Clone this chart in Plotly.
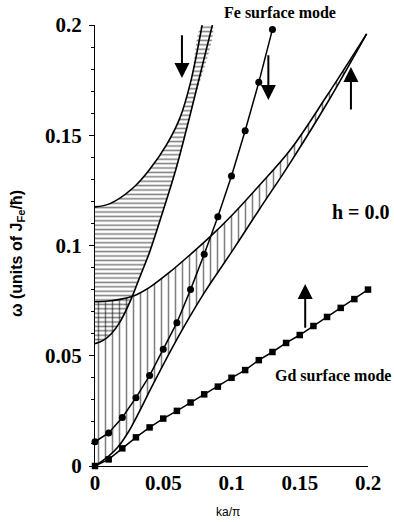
import plotly.graph_objects as go

# ---- data ----
fe_band_upper_k = [0, 0.011, 0.028, 0.040, 0.0527, 0.0623, 0.0700, 0.0785]
fe_band_upper_w = [0.1175, 0.119, 0.1262, 0.1345, 0.146, 0.158, 0.174, 0.2]
fe_band_lower_k = [0, 0.006, 0.012, 0.018, 0.026, 0.033, 0.040, 0.050, 0.059, 0.070, 0.086]
fe_band_lower_w = [0.0555, 0.057, 0.060, 0.065, 0.075, 0.086, 0.097, 0.116, 0.134, 0.160, 0.2]

gd_band_lower_k = [0, 0.01, 0.0168, 0.025, 0.0315, 0.0425, 0.0623, 0.08, 0.1, 0.12, 0.143, 0.17, 0.199]
gd_band_lower_w = [0, 0.0045, 0.0086, 0.016, 0.0235, 0.037, 0.060, 0.0785, 0.097, 0.116, 0.1375, 0.1645, 0.196]
gd_band_upper_k = [0, 0.01, 0.02, 0.03, 0.04, 0.0549, 0.07, 0.0842, 0.1, 0.12, 0.143, 0.17, 0.199]
gd_band_upper_w = [0.0745, 0.0748, 0.0758, 0.0776, 0.081, 0.088, 0.096, 0.1039, 0.1135, 0.127, 0.1433, 0.168, 0.196]

fe_surf_k = [0, 0.01, 0.02, 0.03, 0.04, 0.05, 0.06, 0.07, 0.08, 0.09, 0.10, 0.11, 0.12, 0.13]
fe_surf_w = [0.011, 0.015, 0.022, 0.031, 0.041, 0.053, 0.065, 0.080, 0.096, 0.113, 0.1315, 0.152, 0.174, 0.198]

gd_surf_k = [0, 0.01, 0.02, 0.03, 0.04, 0.05, 0.06, 0.07, 0.08, 0.09, 0.10,
             0.11, 0.12, 0.13, 0.14, 0.15, 0.16, 0.17, 0.18, 0.19, 0.20]
gd_surf_w = [0.0, 0.003, 0.008, 0.013, 0.0175, 0.0215, 0.025, 0.0288, 0.0325, 0.036, 0.040,
             0.0435, 0.048, 0.0517, 0.0558, 0.0594, 0.0635, 0.0676, 0.0717, 0.0757, 0.080]

# arrows: x, tail, head
arrow_k = [0.0637, 0.127, 0.1875, 0.154]
arrow_tail = [0.196, 0.187, 0.161, 0.062]
arrow_head = [0.176, 0.166, 0.181, 0.0825]

tick_vals = [0, 0.05, 0.1, 0.15, 0.2]
tick_text = ["0", "0.05", "0.1", "0.15", "0.2"]

SERIF = "Liberation Serif"
SANS = "Liberation Sans"

W, H = 394, 522
ML, MR, MT, MB = 95, 26, 25, 56


def px(xpix):
    return (xpix - ML) / (W - ML - MR)


def py(ypix):
    return (H - MB - ypix) / (H - MT - MB)


fig = go.Figure()

# Fe bulk band (horizontal hatching)
fig.add_trace(go.Scatter(
    x=fe_band_upper_k + fe_band_lower_k[::-1],
    y=fe_band_upper_w + fe_band_lower_w[::-1],
    mode="lines", fill="toself", line=dict(width=0, shape="spline"),
    fillcolor="rgba(0,0,0,0)",
    fillpattern=dict(shape="-", fgcolor="black", bgcolor="rgba(0,0,0,0)", size=4.4, solidity=0.35),
    hoverinfo="skip", showlegend=False))

# Gd bulk band (vertical hatching)
fig.add_trace(go.Scatter(
    x=gd_band_lower_k + gd_band_upper_k[::-1],
    y=gd_band_lower_w + gd_band_upper_w[::-1],
    mode="lines", fill="toself", line=dict(width=0, shape="spline"),
    fillcolor="rgba(0,0,0,0)",
    fillpattern=dict(shape="|", fgcolor="black", bgcolor="rgba(0,0,0,0)", size=7, solidity=0.22),
    hoverinfo="skip", showlegend=False))

# band edges
for kx, wy in [(fe_band_upper_k, fe_band_upper_w), (fe_band_lower_k, fe_band_lower_w),
               (gd_band_lower_k, gd_band_lower_w), (gd_band_upper_k, gd_band_upper_w)]:
    fig.add_trace(go.Scatter(x=kx, y=wy, mode="lines", line=dict(color="black", width=1.6, shape="spline"),
                             hoverinfo="skip", showlegend=False))

# Fe surface mode
fig.add_trace(go.Scatter(x=fe_surf_k, y=fe_surf_w, mode="lines+markers",
                         line=dict(color="black", width=1.5),
                         marker=dict(symbol="circle", size=7, color="black"),
                         cliponaxis=False, showlegend=False))
# Gd surface mode
fig.add_trace(go.Scatter(x=gd_surf_k, y=gd_surf_w, mode="lines+markers",
                         line=dict(color="black", width=1.5),
                         marker=dict(symbol="square", size=6.5, color="black"),
                         cliponaxis=False, showlegend=False))

annotations = []
for k, t, h in zip(arrow_k, arrow_tail, arrow_head):
    annotations.append(dict(x=k, y=h, ax=k, ay=t, xref="x", yref="y", axref="x", ayref="y",
                            text="", showarrow=True, arrowhead=2, arrowsize=1.5, arrowwidth=2,
                            arrowcolor="black"))

annotations += [
    dict(text="<b>Fe surface mode</b>", x=px(280), y=py(13), xref="paper", yref="paper",
         xanchor="center", yanchor="middle",
         showarrow=False, font=dict(family=SERIF, size=16, color="black")),
    dict(text="<b>h = 0.0</b>", x=px(392), y=py(212), xref="paper", yref="paper",
         xanchor="right", yanchor="middle",
         showarrow=False, font=dict(family=SERIF, size=20, color="black")),
    dict(text="<b>Gd surface mode</b>", x=px(393), y=py(375), xref="paper", yref="paper",
         xanchor="right", yanchor="middle",
         showarrow=False, font=dict(family=SERIF, size=16, color="black")),
    dict(text="ka/π", x=px(228), y=py(512), xref="paper", yref="paper",
         xanchor="center", yanchor="middle",
         showarrow=False, font=dict(family=SANS, size=12, color="black")),
    dict(text="<b>ω (units of J<sub>Fe</sub>/ħ)</b>", x=px(17), y=py(254), xref="paper", yref="paper",
         xanchor="center", yanchor="middle",
         textangle=-90, showarrow=False, font=dict(family=SANS, size=16, color="black")),
]

fig.update_layout(
    width=W, height=H,
    margin=dict(l=ML, r=MR, t=MT, b=MB),
    paper_bgcolor="white", plot_bgcolor="white",
    annotations=annotations,
    xaxis=dict(range=[0, 0.2], showgrid=False, zeroline=False, showline=True, linecolor="black",
               linewidth=1.2, ticks="", tickvals=tick_vals, ticktext=tick_text,
               ticklabelstandoff=-2,
               tickfont=dict(family=SERIF, size=21, color="black", weight="bold")),
    yaxis=dict(range=[0, 0.2], showgrid=False, zeroline=False, showline=True, linecolor="black",
               linewidth=1.2, ticks="outside", ticklen=5, tickwidth=1.2, tickcolor="black",
               tickvals=tick_vals, ticktext=tick_text, ticklabelstandoff=3,
               minor=dict(ticks="outside", ticklen=3, tickwidth=1, tickcolor="black", dtick=0.01,
                          showgrid=False),
               tickfont=dict(family=SERIF, size=21, color="black", weight="bold")),
)

fig.write_html("out.html", config={"displayModeBar": False},
               post_script="document.body.style.margin='0px';")
